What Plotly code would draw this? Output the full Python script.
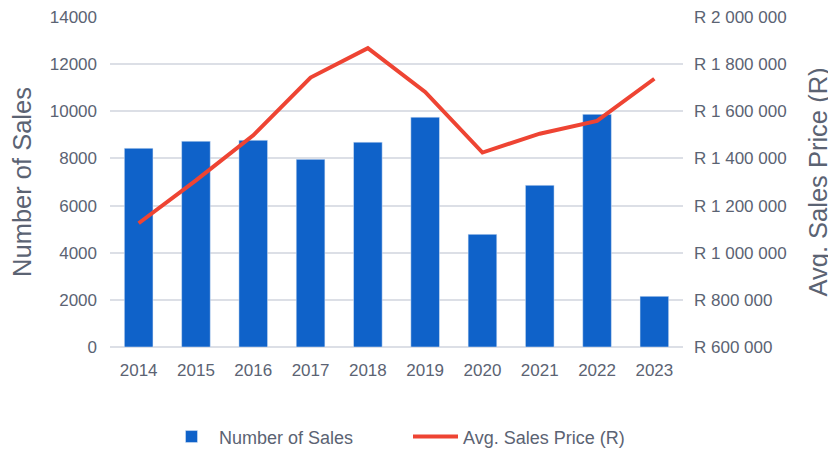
import plotly.graph_objects as go

years = ["2014", "2015", "2016", "2017", "2018", "2019", "2020", "2021", "2022", "2023"]
num_sales = [8430, 8730, 8770, 7960, 8690, 9750, 4780, 6860, 9870, 2150]
avg_price = [1125000, 1307000, 1498000, 1743000, 1868000, 1682000, 1425000, 1505000, 1559000, 1738000]
left_ticks = [0, 2000, 4000, 6000, 8000, 10000, 12000, 14000]
right_ticks = [600000, 800000, 1000000, 1200000, 1400000, 1600000, 1800000, 2000000]
right_labels = ["R " + f"{v:,}".replace(",", " ") for v in right_ticks]

txt = "#5b6373"
tick_size = 17
title_size = 25.5
fig = go.Figure()
fig.add_trace(go.Bar(x=years, y=num_sales, name="Number of Sales",
                     marker=dict(color="#0f62c9"), yaxis="y"))
fig.add_trace(go.Scatter(x=years, y=avg_price, name="Avg. Sales Price (R)",
                         mode="lines", line=dict(color="#ee4433", width=4), yaxis="y2"))

fig.update_layout(
    width=836, height=450,
    margin=dict(l=102, r=161, t=9, b=111),
    plot_bgcolor="white", paper_bgcolor="white",
    font=dict(family="Liberation Sans, Arial, sans-serif", color=txt, size=tick_size),
    bargap=0.5,
    showlegend=True,
    legend=dict(orientation="h", xref="container", yref="container",
                x=156 / 836, xanchor="left", y=0.047, yanchor="middle",
                font=dict(size=18), entrywidth=184, entrywidthmode="pixels",
                itemwidth=45, traceorder="normal"),
    xaxis=dict(showgrid=False, showline=False, tickfont=dict(size=tick_size, color=txt),
               ticks="", ticklabelstandoff=11, automargin=False),
    yaxis=dict(title=dict(text="Number of Sales", font=dict(size=title_size, color=txt), standoff=17),
               range=[0, 14000], tickvals=left_ticks, tickformat="d",
               showgrid=True, gridcolor="#dcdfe6", gridwidth=2,
               zeroline=True, zerolinecolor="#dcdfe6", zerolinewidth=2,
               tickfont=dict(size=tick_size, color=txt), ticks="", ticklabelstandoff=12,
               ticklabeloverflow="allow", automargin=False),
    yaxis2=dict(title=dict(text="Avg. Sales Price (R)", font=dict(size=title_size, color=txt), standoff=23),
                overlaying="y", side="right", range=[600000, 2000000],
                tickvals=right_ticks, ticktext=right_labels,
                showgrid=False, zeroline=False,
                tickfont=dict(size=tick_size, color=txt), ticks="", ticklabelstandoff=10,
                ticklabeloverflow="allow", automargin=False),
)
fig.write_html("out.html")
